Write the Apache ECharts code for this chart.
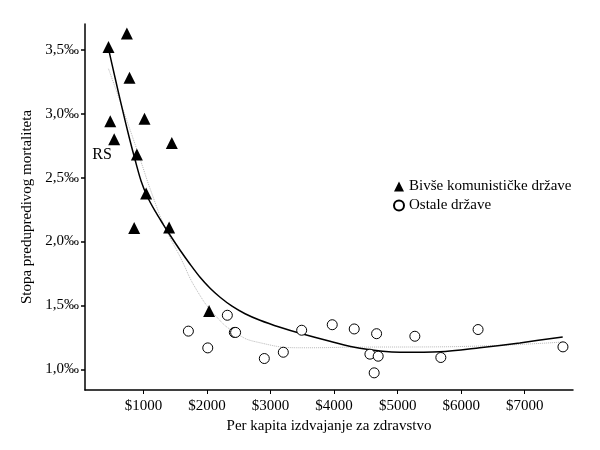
<!DOCTYPE html>
<html>
<head>
<meta charset="utf-8">
<script src="https://cdn.jsdelivr.net/npm/echarts@6/dist/echarts.min.js"></script>
<style>
    html, body { margin: 0; padding: 0; background: #fff; }
    #chart { width: 600px; height: 450px; }
</style>
</head>
<body>
<div id="chart"></div>
<script>
// bivse komunisticke drzave (trouglovi)
var komX = [450, 739, 780, 477, 1016, 539, 1446, 896, 1042, 854, 1404, 2033];
var komY = [3.52, 3.625, 3.28, 2.94, 2.96, 2.80, 2.77, 2.68, 2.375, 2.106, 2.11, 1.458];
var komLabel = ['', '', '', '', '', '', '', 'RS', '', '', '', ''];

// ostale drzave (krugovi)
var ostX = [2320, 1707, 2430, 2450, 2012, 2902, 3201, 3490, 3971, 4317, 4669, 5271, 4564, 4694, 4631, 5680, 6266, 7602];
var ostY = [1.424, 1.30, 1.29, 1.29, 1.169, 1.086, 1.135, 1.307, 1.35, 1.317, 1.28, 1.26, 1.12, 1.104, 0.974, 1.094, 1.3125, 1.177];

// krive ocitane sa slike
var fitX = [445, 555, 665, 775, 870, 964, 1058, 1184, 1310, 1420, 1577, 1734, 1891, 2049, 2206, 2394, 2599, 2834, 3149, 3463, 3935, 4407, 5035, 5664, 6293, 6922, 7598];
var fitY = [3.518, 3.276, 3.041, 2.815, 2.635, 2.471, 2.354, 2.237, 2.135, 2.049, 1.932, 1.823, 1.721, 1.635, 1.565, 1.495, 1.436, 1.385, 1.330, 1.283, 1.221, 1.166, 1.135, 1.139, 1.170, 1.208, 1.255];
var loessX = [450, 700, 937, 1132, 1341, 1577, 1839, 2154, 2441, 2783, 3515, 4400, 5600, 7600];
var loessY = [3.35, 3.00, 2.66, 2.375, 2.11, 1.88, 1.62, 1.41, 1.29, 1.215, 1.17, 1.175, 1.177, 1.215];

var xTicks = [1000, 2000, 3000, 4000, 5000, 6000, 7000];
var yTicks = [1.0, 1.5, 2.0, 2.5, 3.0, 3.5];

var legendNames = ['Bivše komunističke države', 'Ostale države'];
var xName = 'Per kapita izdvajanje za zdravstvo';
var yName = 'Stopa predupredivog mortaliteta';

var FONT = 'Liberation Serif';
var FONT_SIZE = 15;

function pairs(xs, ys) {
    var out = [];
    for (var i = 0; i < xs.length; i++) {
        out.push([xs[i], ys[i]]);
    }
    return out;
}

var komData = [];
for (var i = 0; i < komX.length; i++) {
    var item = { value: [komX[i], komY[i]] };
    if (komLabel[i]) {
        item.label = {
            show: true,
            formatter: komLabel[i],
            position: 'left',
            distance: 19,
            color: '#000',
            fontFamily: FONT,
            fontSize: 16
        };
    }
    komData.push(item);
}

var myChart = echarts.init(document.getElementById('chart'));

var option = {
    backgroundColor: '#fff',
    animation: false,
    textStyle: { fontFamily: FONT, color: '#000' },
    grid: { left: 85, right: 27, top: 24, bottom: 60 },
    legend: {
        orient: 'vertical',
        left: 388,
        top: 174,
        itemGap: 4,
        itemWidth: 10,
        itemHeight: 10,
        data: legendNames,
        textStyle: { fontFamily: FONT, fontSize: FONT_SIZE, color: '#000' }
    },
    xAxis: {
        type: 'value',
        min: 80,
        max: 7760,
        name: xName,
        nameLocation: 'middle',
        nameGap: 28,
        nameTextStyle: { fontFamily: FONT, fontSize: FONT_SIZE, color: '#000' },
        splitLine: { show: false },
        axisLine: { onZero: false, lineStyle: { color: '#000', width: 1.5 } },
        axisTick: { show: true, length: 4, customValues: xTicks, lineStyle: { color: '#000' } },
        axisLabel: {
            customValues: xTicks,
            fontFamily: FONT,
            fontSize: FONT_SIZE,
            color: '#000',
            margin: 9,
            formatter: function (v) { return '$' + v; }
        }
    },
    yAxis: {
        type: 'value',
        min: 0.84,
        max: 3.70,
        name: yName,
        nameLocation: 'middle',
        nameRotate: 90,
        nameGap: 48,
        nameTextStyle: { fontFamily: FONT, fontSize: FONT_SIZE, color: '#000' },
        splitLine: { show: false },
        axisLine: { onZero: false, lineStyle: { color: '#000', width: 1.5 } },
        axisTick: { show: true, length: 4, customValues: yTicks, lineStyle: { color: '#000', width: 1.5 } },
        axisLabel: {
            customValues: yTicks,
            fontFamily: FONT,
            fontSize: FONT_SIZE,
            color: '#000',
            margin: 6,
            formatter: function (v) { return v.toFixed(1).replace('.', ',') + '‰'; }
        }
    },
    series: [
        {
            name: 'loess',
            type: 'line',
            data: pairs(loessX, loessY),
            smooth: true,
            showSymbol: false,
            symbol: 'none',
            lineStyle: { color: '#b8b8b8', width: 1, type: 'dotted' },
            z: 1
        },
        {
            name: 'fit',
            type: 'line',
            data: pairs(fitX, fitY),
            smooth: 0.3,
            showSymbol: false,
            symbol: 'none',
            lineStyle: { color: '#000', width: 1.5 },
            z: 2
        },
        {
            name: legendNames[0],
            type: 'scatter',
            symbol: 'triangle',
            symbolSize: 12,
            data: komData,
            itemStyle: { color: '#000', opacity: 1 },
            z: 3
        },
        {
            name: legendNames[1],
            type: 'scatter',
            symbol: 'circle',
            symbolSize: 10,
            data: pairs(ostX, ostY),
            itemStyle: { color: '#fff', borderColor: '#000', borderWidth: 1, opacity: 1 },
            z: 3
        }
    ]
};

myChart.setOption(option, true);
</script>
</body>
</html>
